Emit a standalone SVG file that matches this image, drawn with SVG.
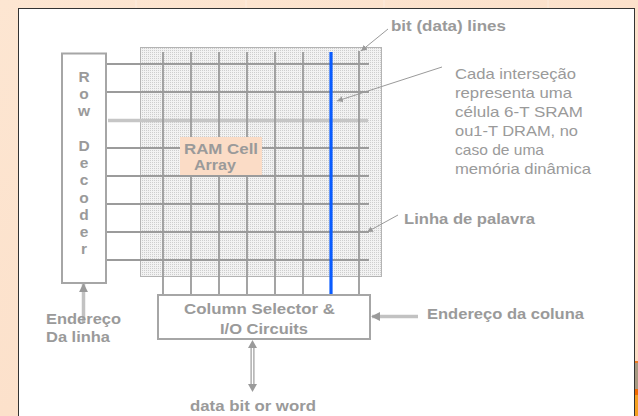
<svg xmlns="http://www.w3.org/2000/svg" width="638" height="416" viewBox="0 0 638 416">
<defs>
<style>
.lbl{font-family:"Liberation Sans",Arial,sans-serif;font-weight:bold;font-size:15px;fill:#9a9a9a}
.dec{font-family:"Liberation Sans",Arial,sans-serif;font-weight:bold;font-size:15.5px;fill:#9a9a9a}
.note{font-family:"Liberation Sans",Arial,sans-serif;font-size:14.5px;fill:#9a9a9a}
.box{fill:#fff;stroke:#a6a6a6;stroke-width:2}
.wl{stroke:#9b9b9b;stroke-width:1.8}
.bl{stroke:#9b9b9b;stroke-width:1.8}
.thin{stroke:#9a9a9a;stroke-width:1;fill:none}
.fat{stroke:#c2c2c2;stroke-width:3.5;fill:none}
</style>
<linearGradient id="bg" x1="0" y1="0" x2="1" y2="1">
<stop offset="0" stop-color="#fde6d2"/>
<stop offset="1" stop-color="#fbdcc4"/>
</linearGradient>
<pattern id="dots" width="2" height="2" patternUnits="userSpaceOnUse">
<rect width="2" height="2" fill="#f2f2f2"/>
<rect width="1" height="1" fill="#cdcdcd"/>
</pattern>
<marker id="ahs" viewBox="0 0 10 10" refX="10" refY="5" markerWidth="6" markerHeight="6" markerUnits="userSpaceOnUse" orient="auto">
<path d="M0,0 L10,5 L0,10 z" fill="#9a9a9a"/>
</marker>
<marker id="ahb" viewBox="0 0 10 10" refX="9" refY="5" markerWidth="9" markerHeight="9" markerUnits="userSpaceOnUse" orient="auto">
<path d="M0,0 L10,5 L0,10 z" fill="#9a9a9a"/>
</marker>
</defs>

<rect x="0" y="0" width="638" height="416" fill="url(#bg)"/>
<g opacity="0.35" stroke="#ffffff" stroke-width="1">
<line x1="136" y1="0" x2="136" y2="8"/>
<line x1="246" y1="0" x2="246" y2="8"/>
<line x1="384" y1="0" x2="384" y2="8"/>
<line x1="548" y1="0" x2="548" y2="8"/>
</g>
<rect x="635" y="362" width="3" height="27" fill="#a89a82"/>
<rect x="635" y="361" width="3" height="2" fill="#f07a20"/>
<rect x="635" y="389" width="3" height="6" fill="#f06a00"/>
<rect x="635" y="395" width="3" height="21" fill="#f5a020"/>
<rect x="18.5" y="8.5" width="616" height="420" fill="#ffffff" stroke="#333333" stroke-width="1"/>

<g id="ram-array">
<rect x="140.5" y="47.5" width="241" height="229" fill="url(#dots)" stroke="#b4b4b4" stroke-width="1"/>
</g>

<g id="connectors">
<g id="word-lines">
<line class="wl" x1="106" y1="64" x2="369" y2="64"/>
<line class="wl" x1="106" y1="92" x2="369" y2="92"/>
<line x1="108" y1="120.5" x2="368" y2="120.5" stroke="#c6c6c6" stroke-width="3.5"/>
<line class="wl" x1="106" y1="148" x2="369" y2="148"/>
<line class="wl" x1="106" y1="176" x2="369" y2="176"/>
<line class="wl" x1="106" y1="204" x2="369" y2="204"/>
<line class="wl" x1="106" y1="232" x2="369" y2="232"/>
<line class="wl" x1="106" y1="260" x2="369" y2="260"/>
</g>
<g id="bit-lines">
<line class="bl" x1="163" y1="52" x2="163" y2="295"/>
<line class="bl" x1="191" y1="52" x2="191" y2="295"/>
<line class="bl" x1="219" y1="52" x2="219" y2="295"/>
<line class="bl" x1="247" y1="52" x2="247" y2="295"/>
<line class="bl" x1="275" y1="52" x2="275" y2="295"/>
<line class="bl" x1="303" y1="52" x2="303" y2="295"/>
<line class="bl" x1="359" y1="51" x2="359" y2="296"/>
<line x1="331" y1="52" x2="331" y2="295" stroke="#0a5cff" stroke-width="3.2"/>
</g>
<line class="thin" x1="388" y1="29" x2="361" y2="51" marker-end="url(#ahs)"/>
<line class="thin" x1="442" y1="67" x2="337" y2="101" marker-end="url(#ahs)"/>
<line class="thin" x1="398" y1="215" x2="367" y2="232" marker-end="url(#ahs)"/>
<line class="fat" x1="418" y1="316.5" x2="372" y2="316.5" marker-end="url(#ahb)"/>
<line class="fat" x1="83.5" y1="323" x2="83.5" y2="284" marker-end="url(#ahb)"/>
<g id="data-arrow">
<line x1="252.5" y1="347" x2="252.5" y2="385" stroke="#9a9a9a" stroke-width="4"/>
<line x1="252.5" y1="347" x2="252.5" y2="385" stroke="#ffffff" stroke-width="1.6"/>
<path d="M252.5,340 L248,348 L257,348 z" fill="#9a9a9a"/>
<path d="M252.5,392 L248,384 L257,384 z" fill="#9a9a9a"/>
</g>
</g>

<g id="ram-label">
<rect x="180" y="137" width="82" height="38" fill="#fbdcc6"/>
<text class="lbl" x="184" y="153.5" textLength="74" lengthAdjust="spacingAndGlyphs">RAM Cell</text>
<text class="lbl" x="194" y="169.5" textLength="42" lengthAdjust="spacingAndGlyphs">Array</text>
</g>

<g id="row-decoder">
<rect class="box" x="62" y="53.5" width="44" height="229.5"/>
<g class="dec" text-anchor="middle">
<text x="84" y="82">R</text>
<text x="84" y="99.2">o</text>
<text x="84" y="116.4">w</text>
<text x="84" y="151">D</text>
<text x="84" y="168.2">e</text>
<text x="84" y="185.4">c</text>
<text x="84" y="202.6">o</text>
<text x="84" y="219.8">d</text>
<text x="84" y="237">e</text>
<text x="84" y="254.2">r</text>
</g>
</g>

<g id="column-selector">
<rect class="box" x="158" y="295" width="212" height="44"/>
<text class="lbl" x="184" y="313.5" textLength="151" lengthAdjust="spacingAndGlyphs">Column Selector &amp;</text>
<text class="lbl" x="220" y="333.5" textLength="88" lengthAdjust="spacingAndGlyphs">I/O Circuits</text>
</g>

<g id="labels">
<text class="lbl" x="391" y="30.5" textLength="115" lengthAdjust="spacingAndGlyphs">bit (data) lines</text>
<text class="lbl" x="404" y="223.5" textLength="131" lengthAdjust="spacingAndGlyphs">Linha de palavra</text>
<text class="lbl" x="46" y="323.5" textLength="75" lengthAdjust="spacingAndGlyphs">Endereço</text>
<text class="lbl" x="46" y="341.5" textLength="64" lengthAdjust="spacingAndGlyphs">Da linha</text>
<text class="lbl" x="427" y="318.5" textLength="157" lengthAdjust="spacingAndGlyphs">Endereço da coluna</text>
<text class="lbl" x="190" y="411" textLength="126" lengthAdjust="spacingAndGlyphs">data bit or word</text>
<g class="note">
<text x="455" y="79" textLength="121" lengthAdjust="spacingAndGlyphs">Cada interseção</text>
<text x="455" y="98" textLength="117" lengthAdjust="spacingAndGlyphs">representa uma</text>
<text x="455" y="117" textLength="128" lengthAdjust="spacingAndGlyphs">célula 6-T SRAM</text>
<text x="455" y="136" textLength="123" lengthAdjust="spacingAndGlyphs">ou1-T DRAM, no</text>
<text x="455" y="155" textLength="89" lengthAdjust="spacingAndGlyphs">caso de uma</text>
<text x="455" y="174" textLength="136" lengthAdjust="spacingAndGlyphs">memória dinâmica</text>
</g>
</g>
</svg>
